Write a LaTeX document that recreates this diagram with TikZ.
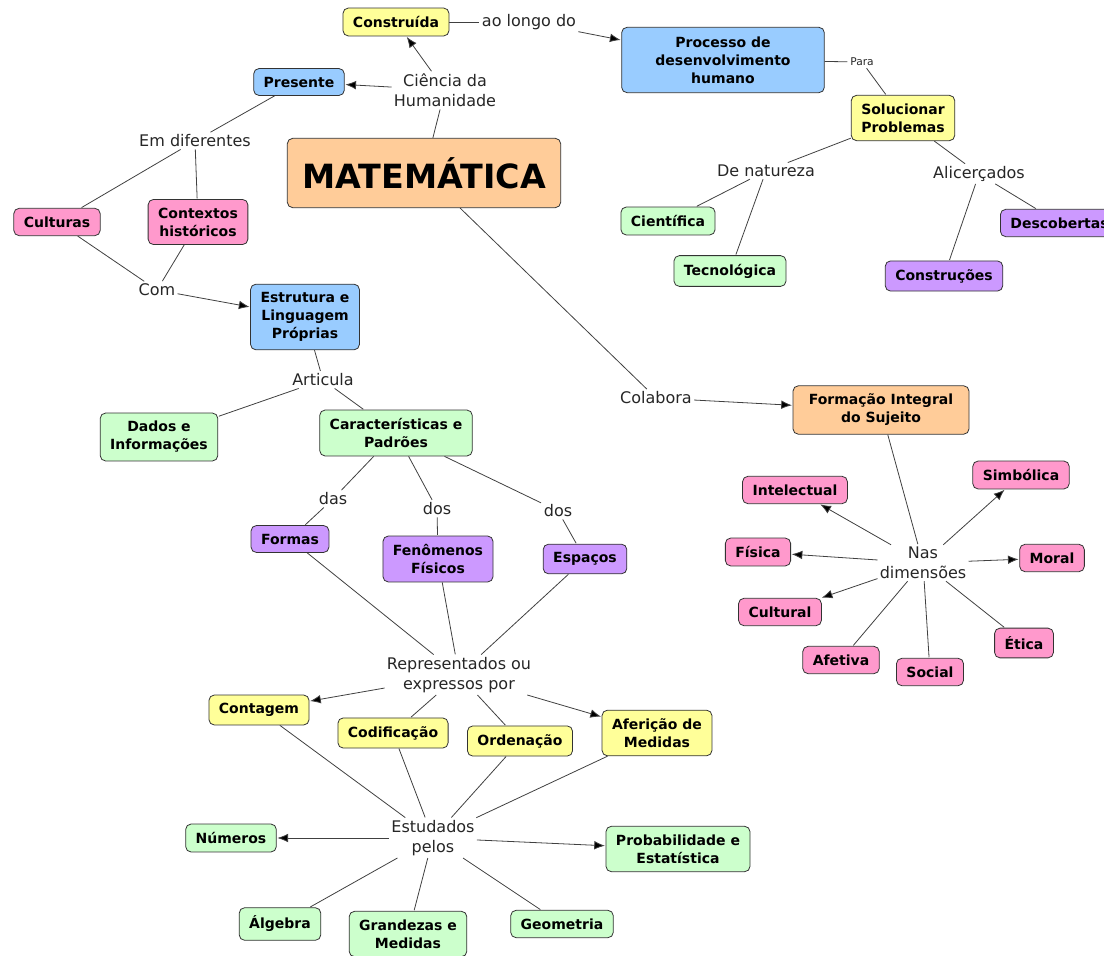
\documentclass[tikz,border=0pt]{standalone}
\usepackage{fontspec}
\setmainfont{DejaVu Sans}
\usetikzlibrary{arrows.meta,positioning}

\definecolor{corAmarelo}{HTML}{FFFF99}
\definecolor{corAzul}{HTML}{99CCFF}
\definecolor{corLaranja}{HTML}{FFCC99}
\definecolor{corRosa}{HTML}{FF99CC}
\definecolor{corVerde}{HTML}{CCFFCC}
\definecolor{corRoxo}{HTML}{CC99FF}

\begin{document}
\begin{tikzpicture}[x=0.75pt,y=-0.75pt,>={Latex[length=8pt,width=6.5pt]},shorten >=0.5pt,
	conceito/.style={draw=black!80,line width=0.6pt,rounded corners=4pt,align=center,
		font=\bfseries\fontsize{10.5}{13.5}\selectfont,inner xsep=7.5pt,inner ysep=6.2pt},
	amarelo/.style={conceito,fill=corAmarelo},
	azul/.style={conceito,fill=corAzul},
	laranja/.style={conceito,fill=corLaranja},
	rosa/.style={conceito,fill=corRosa},
	verde/.style={conceito,fill=corVerde},
	roxo/.style={conceito,fill=corRoxo},
	frase/.style={align=center,font=\fontsize{12}{15}\selectfont,inner sep=1.5pt,text=black!85},
	liga/.style={draw=black!75,line width=0.6pt}]
	\useasboundingbox (0,0) rectangle (1104,956);
	\clip (0,0) rectangle (1104,956);

	% conceitos
	\node[laranja,font=\bfseries\fontsize{25}{30}\selectfont,minimum width=205pt,minimum height=52pt] (mat) at (424,173) {MATEMÁTICA};
	\node[amarelo] (construida) at (396,22) {Construída};
	\node[azul,minimum width=152pt,minimum height=49pt] (processo) at (723,60) {Processo de\\desenvolvimento\\humano};
	\node[azul] (presente) at (299,82) {Presente};
	\node[amarelo] (solucionar) at (903,118) {Solucionar\\Problemas};
	\node[rosa] (culturas) at (57,222) {Culturas};
	\node[rosa] (contextos) at (198,222) {Contextos\\históricos};
	\node[verde] (cientifica) at (668,221) {Científica};
	\node[verde] (tecnologica) at (730,271) {Tecnológica};
	\node[roxo] (construcoes) at (944,276) {Construções};
	\node[roxo,anchor=west] (descobertas) at (1000,223) {Descobertas};
	\node[azul] (estrutura) at (305,317) {Estrutura e\\Linguagem\\Próprias};
	\node[verde] (dados) at (159,437) {Dados e\\Informações};
	\node[verde] (caract) at (396,433) {Características e\\Padrões};
	\node[laranja,minimum width=132pt] (formacao) at (881,410) {Formação Integral\\do Sujeito};
	\node[roxo] (formas) at (290,539) {Formas};
	\node[roxo] (fenomenos) at (438,559) {Fenômenos\\Físicos};
	\node[roxo] (espacos) at (585,559) {Espaços};
	\node[rosa] (intelectual) at (795,490) {Intelectual};
	\node[rosa] (simbolica) at (1021,475) {Simbólica};
	\node[rosa] (fisica) at (758,552) {Física};
	\node[rosa] (moral) at (1052,558) {Moral};
	\node[rosa] (cultural) at (780,612) {Cultural};
	\node[rosa] (afetiva) at (841,660) {Afetiva};
	\node[rosa] (social) at (930,672) {Social};
	\node[rosa] (etica) at (1024,643) {Ética};
	\node[amarelo] (contagem) at (259,710) {Contagem};
	\node[amarelo] (codificacao) at (393,733) {Codificação};
	\node[amarelo] (ordenacao) at (520,741) {Ordenação};
	\node[amarelo] (afericao) at (657,733) {Aferição de\\Medidas};
	\node[verde] (numeros) at (231,838) {Números};
	\node[verde] (probab) at (678,849) {Probabilidade e\\Estatística};
	\node[verde] (algebra) at (280,924) {Álgebra};
	\node[verde] (grandezas) at (408,934) {Grandezas e\\Medidas};
	\node[verde] (geometria) at (562,924) {Geometria};

	% frases de ligação
	\node[frase] (aolongo) at (529,22) {ao longo do};
	\node[frase] (ciencia) at (445,90) {Ciência da\\Humanidade};
	\node[frase,font=\fontsize{8}{10}\selectfont] (para) at (862,62) {Para};
	\node[frase] (emdif) at (195,141) {Em diferentes};
	\node[frase] (denat) at (766,171) {De natureza};
	\node[frase] (alicer) at (979,174) {Alicerçados};
	\node[frase] (com) at (157,290) {Com};
	\node[frase] (articula) at (323,380) {Articula};
	\node[frase] (colabora) at (656,398) {Colabora};
	\node[frase] (das) at (333,499) {das};
	\node[frase] (dos1) at (437,509) {dos};
	\node[frase] (dos2) at (558,511) {dos};
	\node[frase] (nasdim) at (923,563) {Nas\\dimensões};
	\node[frase] (repres) at (459,675) {Representados ou\\expressos por};
	\node[frase] (estudados) at (433,838) {Estudados\\pelos};

	% ligações
	\path[liga]
		(construida) edge (aolongo)
		(mat) edge (ciencia)
		(presente) edge (emdif)
		(emdif) edge (culturas)
		(emdif) edge (contextos)
		(culturas) edge (com)
		(contextos) edge (com)
		(estrutura) edge (articula)
		(articula) edge (dados)
		(articula) edge (caract)
		(caract) edge (das)
		(das) edge (formas)
		(caract) edge (dos1)
		(dos1) edge (fenomenos)
		(caract) edge (dos2)
		(dos2) edge (espacos)
		(formas) edge (repres)
		(fenomenos) edge (repres)
		(espacos) edge (repres)
		(repres) edge (codificacao)
		(repres) edge (ordenacao)
		(contagem) edge (estudados)
		(codificacao) edge (estudados)
		(ordenacao) edge (estudados)
		(afericao) edge (estudados)
		(estudados) edge (algebra)
		(estudados) edge (grandezas)
		(estudados) edge (geometria)
		(mat) edge (colabora)
		(formacao) edge (nasdim)
		(nasdim) edge (afetiva)
		(nasdim) edge (social)
		(nasdim) edge (etica)
		(processo) edge (para)
		(para) edge (solucionar)
		(solucionar) edge (denat)
		(denat) edge (cientifica)
		(denat) edge (tecnologica)
		(solucionar) edge (alicer)
		(alicer) edge (construcoes)
		(alicer) edge (descobertas);
	\path[liga,->]
		(aolongo) edge (processo)
		(ciencia) edge (construida)
		(ciencia) edge (presente)
		(com) edge (estrutura)
		(repres) edge (contagem)
		(repres) edge (afericao)
		(estudados) edge (numeros)
		(estudados) edge (probab)
		(colabora) edge (formacao)
		(nasdim) edge (intelectual)
		(nasdim) edge (fisica)
		(nasdim) edge (cultural)
		(nasdim) edge (simbolica)
		(nasdim) edge (moral);
\end{tikzpicture}
\end{document}
